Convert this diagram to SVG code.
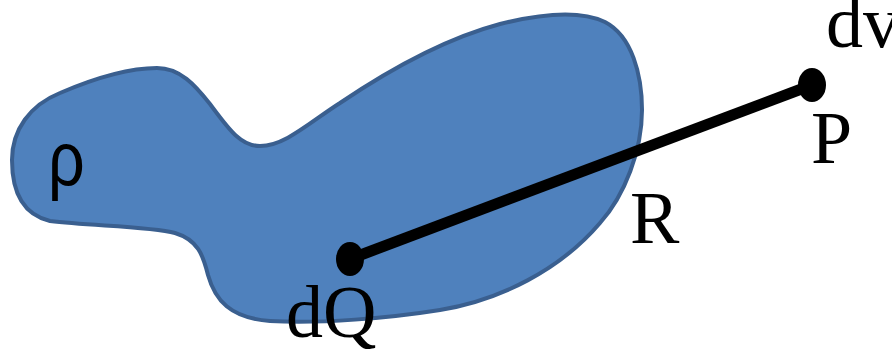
<svg xmlns="http://www.w3.org/2000/svg" width="892" height="351" viewBox="0 0 892 351">
<style>
.lbl{font-size:74px;fill:#000}
.rho{font-size:76px;fill:#000}
.dot{fill:#000}
</style>
<rect width="892" height="351" fill="#fff"/>
<g id="region">
<path d="M12,160 C12,130 30,105 60,93 C95,78 130,68 157,68 C180,68 195,85 210,104 C228,128 240,146 260,146 C285,146 310,122 340,103 C380,76 440,40 500,24 C540,14 580,10 605,22 C632,36 642,75 642,110 C642,150 625,195 600,223 C560,270 500,300 440,310 C390,318 320,324 270,321 C230,318 215,300 208,275 C203,255 198,240 175,233 C150,226 90,226 50,221 C25,215 12,195 12,160 Z" fill="#4F81BD" stroke="#3A5F8F" stroke-width="4"/>
<text class="rho" transform="translate(48,185) scale(0.85,1)" x="0" y="0" font-family="Liberation Sans, Arial, sans-serif">ρ</text>
</g>
<g id="connectors">
<line x1="350" y1="259" x2="812" y2="85" stroke="#000" stroke-width="11"/>
</g>
<g id="dQ">
<ellipse class="dot" cx="350" cy="259" rx="14" ry="17"/>
<text class="lbl" x="286" y="337" font-family="Liberation Serif, Times New Roman, serif">dQ</text>
</g>
<g id="P">
<ellipse class="dot" cx="812" cy="85" rx="14" ry="17"/>
<text class="lbl" x="811" y="163" font-family="Liberation Serif, Times New Roman, serif">P</text>
</g>
<g id="R">
<text class="lbl" x="630" y="243" font-family="Liberation Serif, Times New Roman, serif">R</text>
</g>
<g id="dv">
<text class="lbl" x="826" y="47" font-family="Liberation Serif, Times New Roman, serif">dv</text>
</g>
</svg>
